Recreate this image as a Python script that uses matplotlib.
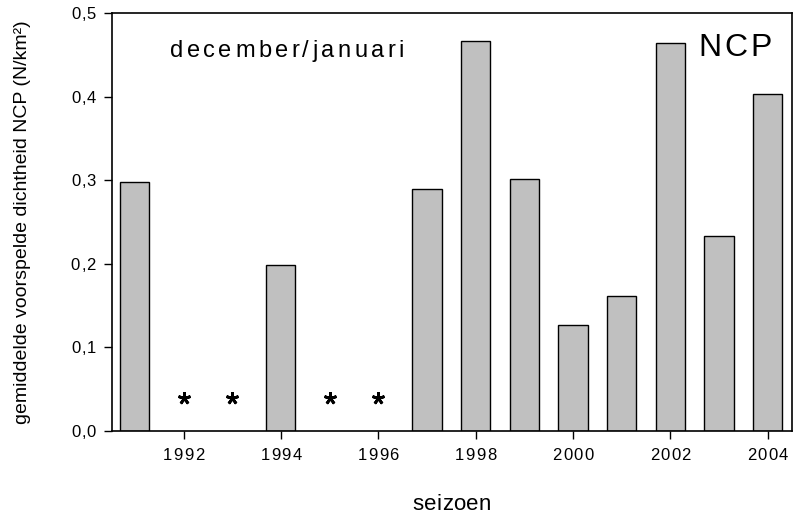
import matplotlib
matplotlib.use('Agg')
import matplotlib.pyplot as plt
import numpy as np
from matplotlib.transforms import offset_copy

plt.rcParams['font.family'] = ['Liberation Sans', 'DejaVu Sans']

years = [1991, 1992, 1993, 1994, 1995, 1996, 1997, 1998, 1999, 2000, 2001, 2002, 2003, 2004]
density = [0.298, np.nan, np.nan, 0.199, np.nan, np.nan, 0.290, 0.466, 0.302, 0.127, 0.161, 0.464, 0.233, 0.403]
xtick_years = [1992, 1994, 1996, 1998, 2000, 2002, 2004]
yticks = [0.0, 0.1, 0.2, 0.3, 0.4, 0.5]
ytick_labels = ['0,0', '0,1', '0,2', '0,3', '0,4', '0,5']


def spaced_text(ax, x, y, s, track, size, ha='left', va='baseline', transform=None, dx=0, dy=0, **kw):
    # matplotlib has no letter spacing, so draw char by char
    fig = ax.figure
    r = fig.canvas.get_renderer()
    tr = transform if transform is not None else ax.transAxes
    widths = []
    for ch in s:
        t = ax.text(0, 0, ch, fontsize=size, **kw)
        widths.append(t.get_window_extent(r).width)
        t.remove()
    total = sum(widths) + track * (len(s) - 1)
    off = {'left': 0, 'center': -total / 2, 'right': -total}[ha] + dx
    for ch, w in zip(s, widths):
        ax.text(x, y, ch, fontsize=size, ha='left', va=va, clip_on=False,
                transform=offset_copy(tr, fig=fig, x=off, y=dy, units='dots'), **kw)
        off += w + track


fig = plt.figure(figsize=(7.93, 5.15), dpi=100)
ax = fig.add_axes([0.1412, 0.1631, 0.8575, 0.8117])

vals = np.array(density)
present = ~np.isnan(vals)
ax.bar(np.array(years)[present], vals[present], width=0.6, color='#c0c0c0',
       edgecolor='black', linewidth=1.0, zorder=2)

missing = np.array(years)[~present]
ax.plot(missing, np.full(len(missing), 0.04), linestyle='none', marker=(5, 2, 0),
        markersize=9, markeredgewidth=2.0, color='black')

ax.set_xlim(1990.53, 2004.5)
ax.set_ylim(0, 0.5)
for sp in ax.spines.values():
    sp.set_linewidth(1.2)

ax.set_xticks(xtick_years)
ax.set_yticks(yticks)
ax.set_xticklabels([])
ax.set_yticklabels([])
ax.tick_params(direction='out', length=6, width=1.0)

for yr in xtick_years:
    spaced_text(ax, yr, 0, str(yr), 1.3, 12, ha='center', va='top',
                transform=ax.get_xaxis_transform(), dy=-17)
for v, lab in zip(yticks, ytick_labels):
    spaced_text(ax, 0, v, lab, 1.0, 12, ha='right', va='center_baseline',
                transform=ax.get_yaxis_transform(), dx=-16)

spaced_text(ax, 0.5, -0.1, 'seizoen', 0.3, 16, ha='center', va='baseline', dy=-37)
spaced_text(ax, 0.0853, 0.894, 'december/januari', 3.4, 17)
spaced_text(ax, 0.862, 0.897, 'NCP', 3.0, 23)

fig.text(0.029, 0.569, 'gemiddelde voorspelde dichtheid NCP (N/km²)', rotation=90,
         ha='center', va='center', fontsize=14)

fig.savefig('out.png', dpi=100)
